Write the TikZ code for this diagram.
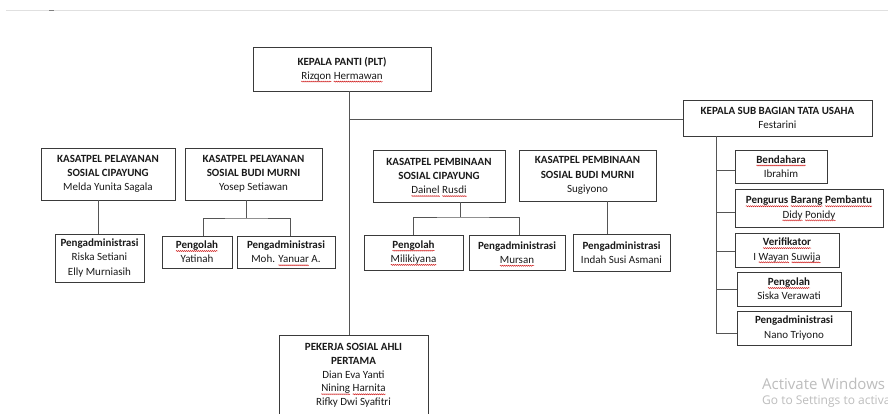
\documentclass[tikz,border=0pt]{standalone}
\usepackage{fontspec}
\setmainfont{Carlito}
\newfontfamily\wmfont{Open Sans}
\usetikzlibrary{decorations.pathmorphing}
\definecolor{boxc}{HTML}{3A3A3A}
\definecolor{linec}{HTML}{555555}
\definecolor{txt}{HTML}{1A1A1A}
\definecolor{spellc}{HTML}{D02020}
% word with a red wavy spell-check underline
\newcommand\sq[1]{\tikz[baseline=(sqw.base)]{%
  \node[draw=none, fill=none, inner sep=0pt, outer sep=0pt,
    minimum width=0pt, minimum height=0pt, anchor=center] (sqw) {#1};%
  \draw[overlay, draw=spellc, line width=0.45pt, decorate,
    decoration={snake, amplitude=0.55pt, segment length=2pt}]
    ([yshift=-2.3pt]sqw.base west) -- ([yshift=-2.3pt]sqw.base east);}}
\tikzset{
  box/.style={draw=boxc, line width=0.8pt, align=center, inner sep=0pt,
    font=\fontsize{11}{14.2}\selectfont, text=txt, fill=white},
  conn/.style={draw=linec, line width=0.8pt},
}
\begin{document}
\begin{tikzpicture}[x=1pt,y=-1pt]
\fill[white] (0,0) rectangle (888,414);
\useasboundingbox (0,0) rectangle (888,414);

% thin rule along the top
\draw[black!12, line width=0.6pt] (6,10) -- (888,10);
\draw[black!50, line width=0.6pt] (49,10) -- (54,10);

% top level
\node[box, minimum width=178pt, minimum height=44pt] (head) at (342,69)
  {\textbf{KEPALA PANTI (PLT)}\\\sq{Rizqon} \sq{Hermawan}};
\node[box, minimum width=189pt, minimum height=36pt] (tu) at (777.5,118)
  {\textbf{KEPALA SUB BAGIAN TATA USAHA}\\Festarini};

% administration column
\node[box, minimum width=92pt, minimum height=33pt] (ben) at (781,166.5)
  {\textbf{\sq{Bendahara}}\\Ibrahim};
\node[box, minimum width=148pt, minimum height=38pt] (pbp) at (809,208)
  {\textbf{\sq{Pengurus} \sq{Barang} \sq{Pembantu}}\\\sq{Didy} \sq{Ponidy}};
\node[box, minimum width=104pt, minimum height=34pt] (ver) at (787,250)
  {\textbf{\sq{Verifikator}}\\I \sq{Wayan} \sq{Suwija}};
\node[box, minimum width=104pt, minimum height=34pt] (pgs) at (789,289)
  {\textbf{\sq{Pengolah}}\\Siska Verawati};
\node[box, minimum width=114pt, minimum height=34pt] (pns) at (794,328)
  {\textbf{Pengadministrasi}\\Nano Triyono};

% service units
\node[box, minimum width=134pt, minimum height=52pt] (A) at (108,174)
  {\textbf{KASATPEL PELAYANAN}\\\textbf{SOSIAL CIPAYUNG}\\Melda Yunita Sagala};
\node[box, minimum width=137pt, minimum height=52pt] (B) at (253.5,174)
  {\textbf{KASATPEL PELAYANAN}\\\textbf{SOSIAL BUDI MURNI}\\Yosep Setiawan};
\node[box, minimum width=89pt, minimum height=48pt] (ar) at (99.5,258)
  {\textbf{Pengadministrasi}\\Riska Setiani\\Elly Murniasih};
\node[box, minimum width=70pt, minimum height=32pt] (by) at (197,252)
  {\textbf{\sq{Pengolah}}\\Yatinah};
\node[box, minimum width=98pt, minimum height=32pt] (bm) at (286,252)
  {\textbf{Pengadministrasi}\\Moh. \sq{Yanuar} A.};

% development units
\node[box, minimum width=132pt, minimum height=52pt] (C) at (439,176)
  {\textbf{KASATPEL PEMBINAAN}\\\textbf{SOSIAL CIPAYUNG}\\\sq{Dainel} \sq{Rusdi}};
\node[box, minimum width=137pt, minimum height=51pt] (D) at (587.5,175.5)
  {\textbf{KASATPEL PEMBINAAN}\\\textbf{SOSIAL BUDI MURNI}\\Sugiyono};
\node[box, minimum width=99pt, minimum height=35pt] (cm) at (413.5,252.5)
  {\textbf{\sq{Pengolah}}\\\sq{Milikiyana}};
\node[box, minimum width=96pt, minimum height=35pt] (cu) at (517,252.5)
  {\textbf{Pengadministrasi}\\\sq{Mursan}};
\node[box, minimum width=97pt, minimum height=37pt] (di) at (621.5,252.5)
  {\textbf{Pengadministrasi}\\Indah Susi Asmani};

% social workers
\node[box, minimum width=149pt, minimum height=81pt, font=\fontsize{11}{13.7}\selectfont] (pk) at (353.5,375.5)
  {\textbf{PEKERJA SOSIAL AHLI}\\\textbf{PERTAMA}\\Dian Eva Yanti\\\sq{Nining} \sq{Harnita}\\Rifky Dwi Syafitri};

% junction points
\coordinate (sp) at (349,0);
\coordinate (tx) at (716,0);
\coordinate (bf) at (246,218);
\coordinate (cf) at (460,217);
\coordinate (dx) at (607,0);

% main spine and branch to administration
\draw[conn] (head.south -| sp) -- (pk.north -| sp);
\draw[conn] ([yshift=-1pt]tu.west -| sp) -- ([yshift=-1pt]tu.west);

% administration column
\draw[conn] (tu.south -| tx) -- ([yshift=-5pt]pns.west -| tx) -- ([yshift=-5pt]pns.west);
\draw[conn] ([yshift=-3.5pt]ben.west -| tx) -- ([yshift=-3.5pt]ben.west);
\draw[conn] ([yshift=-4pt]pbp.west -| tx) -- ([yshift=-4pt]pbp.west);
\draw[conn] ([yshift=-1pt]ver.west -| tx) -- ([yshift=-1pt]ver.west);
\draw[conn] (pgs.west -| tx) -- (pgs.west);

% service units
\draw[conn] ([xshift=-1.5pt]ar.north) -- ([xshift=-1.5pt]ar.north |- A.south);
\draw[conn] (B.south -| bf) -- (bf);
\draw[conn] ([xshift=6pt]by.north) |- (bf) -| ([xshift=4pt]bm.north);

% development units
\draw[conn] (C.south -| cf) -- (cf);
\draw[conn] (cm.north) |- (cf) -| ([xshift=2pt]cu.north);
\draw[conn] (D.south -| dx) -- (di.north -| dx);

% system watermark
\node[anchor=base west, inner sep=0pt, text=black!26, font=\wmfont\fontsize{15}{15}\selectfont] (wm1) at (762,389) {Activate Windows};
\node[anchor=base west, inner sep=0pt, text=black!26, font=\wmfont\fontsize{12}{12}\selectfont] (wm2) at (762,404) {Go to Settings to activate Windows.};
\end{tikzpicture}
\end{document}
